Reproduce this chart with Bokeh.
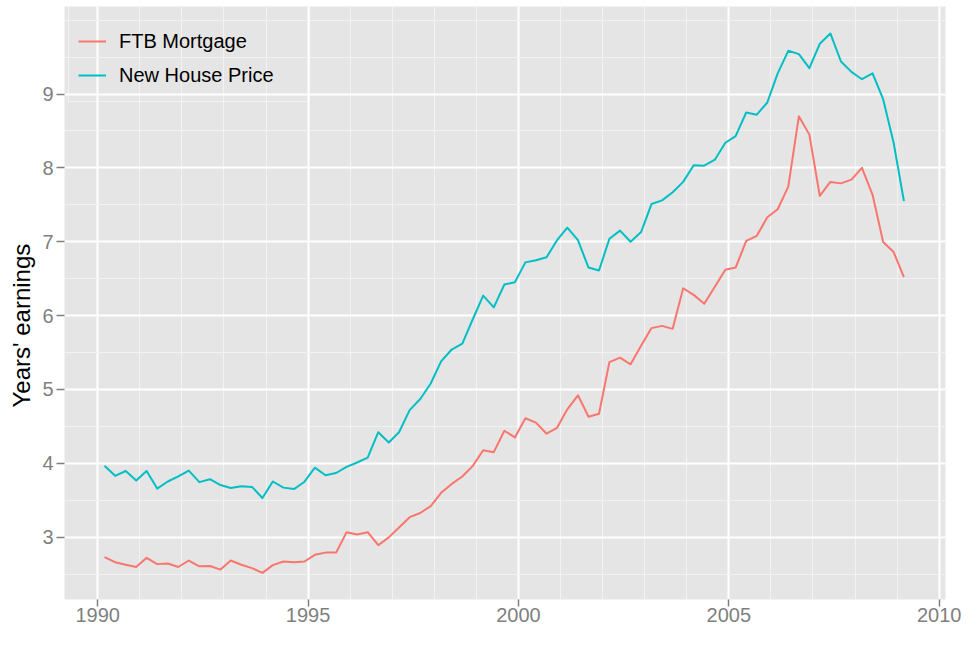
import pandas as pd
from bokeh.plotting import figure
from bokeh.models import Range1d, FixedTicker, Legend, LegendItem, ColumnDataSource, Title
from bokeh.embed import file_html
from bokeh.resources import INLINE

# Quarterly observations, 1990 Q1 .. 2009 Q1
first_date = "1990-03-01"
n_quarters = 77

ftb_mortgage = [
    2.73, 2.66, 2.626, 2.595, 2.72, 2.634, 2.643, 2.595, 2.683, 2.604,
    2.608, 2.56, 2.683, 2.626, 2.58, 2.515, 2.62, 2.67, 2.66, 2.67, 2.76,
    2.79, 2.79, 3.066, 3.035, 3.066, 2.89, 2.996, 3.13, 3.27, 3.326,
    3.42, 3.6, 3.72, 3.82, 3.965, 4.176, 4.15, 4.44, 4.35,
    4.61, 4.55, 4.40, 4.48, 4.73, 4.92, 4.63, 4.67, 5.37, 5.43,
    5.34, 5.59, 5.83, 5.86, 5.82, 6.37, 6.28, 6.16, 6.39,
    6.62, 6.65, 7.01, 7.08, 7.33, 7.44, 7.745, 8.70, 8.45, 7.62,
    7.81, 7.79, 7.84, 8.0, 7.635, 6.995, 6.86, 6.52,
]

new_house_price = [
    3.965, 3.83, 3.895, 3.766, 3.895, 3.657, 3.753, 3.823, 3.9, 3.744,
    3.784, 3.705, 3.665, 3.69, 3.68, 3.53, 3.753, 3.67, 3.65, 3.75, 3.94,
    3.837, 3.868, 3.95, 4.01, 4.075, 4.42, 4.28, 4.42, 4.72, 4.87,
    5.08, 5.38, 5.54, 5.62, 5.95, 6.27, 6.11, 6.42, 6.45,
    6.72, 6.75, 6.79, 7.02, 7.19, 7.02, 6.65, 6.61, 7.04, 7.15,
    7.0, 7.13, 7.51, 7.56, 7.67, 7.81, 8.035, 8.03, 8.11,
    8.34, 8.43, 8.75, 8.72, 8.885, 9.28, 9.585, 9.54, 9.35, 9.68,
    9.82, 9.44, 9.30, 9.2, 9.28, 8.93, 8.34, 7.55,
]

series_labels = ["FTB Mortgage", "New House Price"]
series_colors = ["#F8766D", "#00BFC4"]
y_title = "Years' earnings"

x_major = [1990, 1995, 2000, 2005, 2010]
x_minor = [y for y in range(1991, 2010) if y % 5 != 0]
y_major = [3, 4, 5, 6, 7, 8, 9]
y_minor = [2.5, 3.5, 4.5, 5.5, 6.5, 7.5, 8.5, 9.5, 10.0]

dates = pd.date_range(first_date, periods=n_quarters, freq="3MS")
decimal_year = list(dates.year + (dates.dayofyear - 1) / 365.25)

source = ColumnDataSource(dict(x=decimal_year, ftb=ftb_mortgage, nhp=new_house_price))

FONT = "Liberation Sans"
GREY = "#7F7F7F"
TOP, BOTTOM = 6, 31
FRAME_H = 630 - TOP - BOTTOM

p = figure(
    width=963, height=630,
    x_range=Range1d(1989.21, 2010.15),
    y_range=Range1d(2.155, 10.185),
    output_backend="svg", toolbar_location=None,
    min_border_left=63, min_border_right=18, min_border_top=TOP, min_border_bottom=BOTTOM,
)
p.background_fill_color = "#E5E5E5"
p.border_fill_color = "white"
p.outline_line_color = None

p.xaxis.ticker = FixedTicker(ticks=x_major, minor_ticks=x_minor)
p.yaxis.ticker = FixedTicker(ticks=y_major, minor_ticks=y_minor)

for ax in (p.xaxis[0], p.yaxis[0]):
    ax.axis_line_color = None
    ax.major_tick_line_color = GREY
    ax.major_tick_line_width = 1.5
    ax.major_tick_in = 0
    ax.major_tick_out = 8
    ax.minor_tick_line_color = None
    ax.major_label_text_font = FONT
    ax.major_label_text_font_size = "20px"
    ax.major_label_text_color = GREY
p.xaxis.major_tick_out = 7
p.xaxis.major_label_standoff = 1
p.yaxis.major_label_standoff = 3

for g in (p.xgrid[0], p.ygrid[0]):
    g.grid_line_color = "white"
    g.grid_line_width = 2
    g.minor_grid_line_color = "#F2F2F2"
    g.minor_grid_line_width = 1

r1 = p.line("x", "ftb", source=source, line_color=series_colors[0], line_width=2, line_join="round")
r2 = p.line("x", "nhp", source=source, line_color=series_colors[1], line_width=2, line_join="round")

legend = Legend(
    items=[LegendItem(label=series_labels[0], renderers=[r1]),
           LegendItem(label=series_labels[1], renderers=[r2])],
    location=(4, FRAME_H - 96),
    title="\u00a0", title_text_font_size="8px", title_standoff=0,
    glyph_width=28, glyph_height=34, label_height=34, label_width=181,
    label_standoff=13, spacing=0, padding=9, margin=0,
    label_text_font=FONT, label_text_font_size="20px", label_text_color="black",
    background_fill_alpha=0, border_line_color="white", border_line_width=1.5,
)
p.add_layout(legend)

p.add_layout(Title(text=y_title, align="left", offset=FRAME_H + TOP - 407, standoff=10,
                   text_font=FONT, text_font_size="24px", text_font_style="normal",
                   text_color="black"), "left")

open("out.html", "w").write(file_html(p, INLINE))
